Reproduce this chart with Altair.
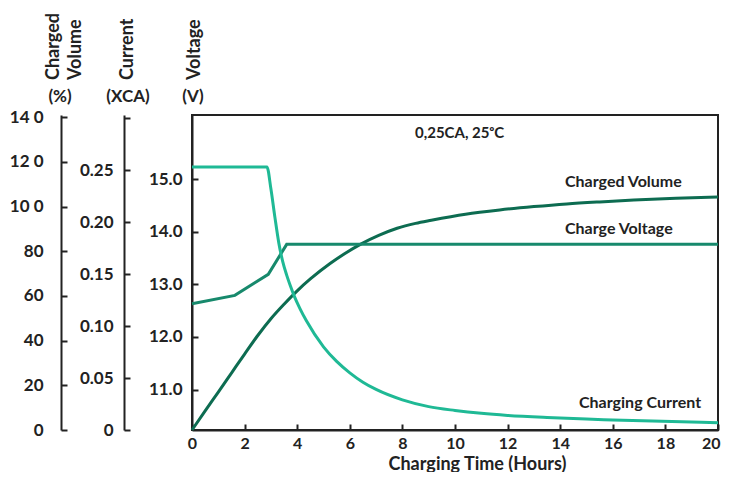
import json
import altair as alt
import pandas as pd

# ---------------- data ----------------
hours_current = [0, 2.85, 3.0, 3.15, 3.3, 3.45, 3.6, 3.75, 3.9, 4.1, 4.35, 5.0, 5.5,
                 6.0, 6.5, 7.0, 8.0, 9.0, 10.0, 11.0, 12.0, 13.5, 15.0, 16.0, 17.5,
                 20.0]
current_xca = [0.253, 0.253, 0.232, 0.205, 0.18, 0.162, 0.149, 0.138, 0.128, 0.117,
               0.105, 0.080, 0.066, 0.055, 0.046, 0.039, 0.029, 0.0225, 0.0188,
               0.016, 0.014, 0.012, 0.0105, 0.0097, 0.0086, 0.007]

hours_voltage = [0, 1.63, 2.9, 3.6, 20]
voltage_v = [12.63, 12.79, 13.19, 13.76, 13.76]

hours_volume = [0, 0.5, 1.0, 1.5, 2.0, 2.5, 3.0, 3.5, 4.0, 4.5, 5.25, 5.8, 6.4, 7.1,
                7.8, 8.5, 9.1, 10.4, 11.7, 13.0, 14.25, 15.5, 16.8, 18.4, 20.0]
volume_pct = [0, 8.6, 17, 25.5, 34, 42.3, 49.8, 56.3, 62.3, 67.6, 74.5, 78.9, 83.1,
              87.1, 90.3, 92.5, 93.9, 96.6, 98.5, 100, 101.2, 102.1, 102.9, 103.7,
              104.35]

x_ticks = [0, 2, 4, 6, 8, 10, 12, 14, 16, 18, 20]
volt_ticks = [11, 12, 13, 14, 15]
volt_labels = ["11.0", "12.0", "13.0", "14.0", "15.0"]
cur_ticks = [0, 0.05, 0.1, 0.15, 0.2, 0.25, 0.3]
cur_labels = ["0", "0.05", "0.10", "0.15", "0.20", "0.25", ""]
vol_ticks = [0, 20, 40, 60, 80, 100, 120, 140]
vol_labels = ["0", "20", "40", "60", "80", "10 0", "12 0", "14 0"]

x_title = "Charging Time (Hours)"
note_text = "0,25CA, 25ᵒC"
label_volume = "Charged Volume"
label_voltage = "Charge Voltage"
label_current = "Charging Current"

# ---------------- styling ----------------
W, H = 526, 315
FONT = "Lato"
INK = "#222222"
C_CUR = "#1fb995"
C_VOLT = "#17896c"
C_VOL = "#0d6c51"


def lab_expr(values, labels):
    return f"{json.dumps(labels)}[indexof({json.dumps(values)}, datum.value)]"


def yaxis(values, labels, axis_x, gap):
    return alt.Axis(
        orient="right", offset=axis_x - W, values=values,
        labelExpr=lab_expr(values, labels), title=None, grid=False,
        tickSize=6, tickWidth=2, tickColor=INK, domainColor=INK, domainWidth=2,
        labelAlign="right", labelPadding=-(6 + gap), labelFont=FONT,
        labelFontSize=17, labelFontWeight="bold", labelColor=INK,
        labelOverlap=False, labelFlush=False)


x_enc = alt.X(
    "h:Q", scale=alt.Scale(domain=[0, 20], nice=False),
    axis=alt.Axis(
        orient="top", offset=-H, values=x_ticks, grid=False,
        tickSize=6, tickWidth=2, tickColor=INK, domainColor=INK, domainWidth=2,
        labelBaseline="top", labelPadding=-11, labelFont=FONT, labelFontSize=16,
        labelFontWeight="bold", labelColor=INK, labelFlush=False, labelOverlap=False,
        labelAlign={"condition": {"test": "datum.value == 20", "value": "right"},
                    "value": "center"},
        labelOffset={"condition": {"test": "datum.value == 20", "value": 2},
                     "value": 0},
        title=x_title, titleX=285, titleY=39, titleBaseline="alphabetic",
        titleAlign="center", titleFont=FONT, titleFontSize=18, titleFontWeight="bold",
        titleColor=INK))

df_cur = pd.DataFrame({"h": hours_current, "v": current_xca})
df_volt = pd.DataFrame({"h": hours_voltage, "v": voltage_v})
df_vol = pd.DataFrame({"h": hours_volume, "v": volume_pct})

volume_line = alt.Chart(df_vol).mark_line(
    color=C_VOL, strokeWidth=3, interpolate="monotone").encode(
    x=x_enc,
    y=alt.Y("v:Q", scale=alt.Scale(domain=[0, 141], nice=False, zero=False),
            axis=yaxis(vol_ticks, vol_labels, -131, 18)))

current_line = alt.Chart(df_cur).mark_line(
    color=C_CUR, strokeWidth=3, interpolate="monotone").encode(
    x=x_enc,
    y=alt.Y("v:Q", scale=alt.Scale(domain=[0, 0.303], nice=False, zero=False),
            axis=yaxis(cur_ticks, cur_labels, -68, 11)))

voltage_line = alt.Chart(df_volt).mark_line(
    color=C_VOLT, strokeWidth=3).encode(
    x=x_enc,
    y=alt.Y("v:Q", scale=alt.Scale(domain=[10.23, 16.22], nice=False, zero=False),
            axis=yaxis(volt_ticks, volt_labels, 0, 10)))

one = pd.DataFrame({"k": [0]})


def text(t, x, y, size=18, angle=0, align="left", baseline="middle"):
    kw = dict(text=t, align=align, baseline=baseline, font=FONT, fontSize=size,
              fontWeight="bold", color=INK)
    if angle:
        kw["angle"] = angle
    return alt.Chart(one).mark_text(**kw).encode(x=alt.value(x), y=alt.value(y))


texts = [
    text("Charged", -138, -35, angle=270),
    text("Volume", -116, -35, angle=270),
    text("(%)", -132, -18, size=17, align="center"),
    text("Current", -64, -35, angle=270),
    text("(XCA)", -64, -18, size=17, align="center"),
    text("Voltage", 3, -35, angle=270),
    text("(V)", 1, -18, size=17, align="center"),
    text(note_text, 223, 18, size=15),
    text(label_volume, 373, 71.5, size=16, baseline="alphabetic"),
    text(label_voltage, 373, 119, size=16, baseline="alphabetic"),
    text(label_current, 387, 293, size=16, baseline="alphabetic"),
]

chart = alt.layer(volume_line, voltage_line, current_line, *texts).resolve_scale(
    y="independent").properties(
    width=W, height=H,
    padding={"left": 184, "top": 107, "right": 3, "bottom": 42},
    autosize=alt.AutoSizeParams(type="none"),
    background="white",
).configure_view(stroke=INK, strokeWidth=2)

chart.save("out.html", embed_options={"renderer": "svg", "actions": False})
